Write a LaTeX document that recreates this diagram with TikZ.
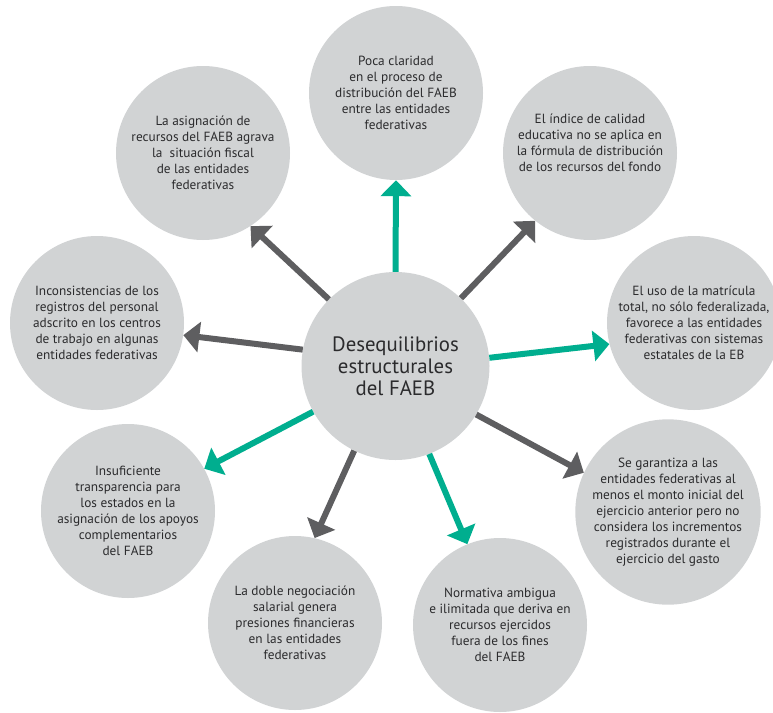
\documentclass[tikz,border=0pt]{standalone}
\usepackage{fontspec}
\setmainfont{PT Sans}
\usetikzlibrary{arrows.meta}
\definecolor{circfill}{HTML}{D1D3D4}
\definecolor{tealarrow}{HTML}{00AE8F}
\definecolor{grayarrow}{HTML}{5E5E60}
\definecolor{textgray}{HTML}{2B2B2D}
\begin{document}
\begin{tikzpicture}[x=1pt,y=-1pt,
  outer/.style={circle, fill=circfill, minimum size=174pt, inner sep=0pt, align=center,
    font=\fontsize{13.3}{16}\selectfont, text=textgray},
  hub/.style={circle, fill=circfill, minimum size=188pt, inner sep=0pt, align=center,
    font=\fontsize{20.8}{22}\selectfont, text=textgray},
  tarrow/.style={draw=tealarrow, line width=6pt, -{Triangle[length=16pt,width=30pt]}},
  garrow/.style={draw=grayarrow, line width=6pt, -{Triangle[length=16pt,width=30pt]}}]
\useasboundingbox (0,0) rectangle (773,712);
\node[outer] (n1) at (396,93) {Poca claridad\\en el proceso de\\distribución del FAEB\\entre las entidades\\federativas};
\node[outer] (n2) at (590,153) {El índice de calidad\\educativa no se aplica en\\la fórmula de distribución\\de los recursos del fondo\\[4pt]};
\node[outer] (n3) at (694,323) {El uso de la matrícula\\total, no sólo federalizada,\\favorece a las entidades\\federativas con sistemas\\estatales de la EB};
\node[outer] (n4) at (668,512) {Se garantiza a las\\entidades federativas al\\menos el monto inicial del\\ejercicio anterior pero no\\considera los incrementos\\registrados durante el\\ejercicio del gasto};
\node[outer] (n5) at (500,625) {Normativa ambigua\\e ilimitada que deriva en\\recursos ejercidos\\fuera de los fines\\del FAEB};
\node[outer] (n6) at (295,623) {La doble negociación\\salarial genera\\presiones financieras\\en las entidades\\federativas};
\node[outer] (n7) at (128,511) {Insuficiente\\transparencia para\\los estados en la\\asignación de los apoyos\\complementarios\\del FAEB};
\node[outer] (n8) at (97,323) {Inconsistencias de los\\registros del personal\\adscrito en los centros\\de trabajo en algunas\\entidades federativas};
\node[outer] (n9) at (203,153) {La asignación de\\recursos del FAEB agrava\\la~ situación fiscal\\de las entidades\\federativas};
\node[hub] (c) at (395.5,366) {Desequilibrios\\estructurales\\del FAEB};
\draw[tarrow] (c.90) -- (n1.270);
\draw[garrow] (c.135.6) -- (n9.303.7);
\draw[garrow] (c.170.3) -- (n8.352);
\draw[garrow] (c.46.5) -- (n2.231);
\draw[tarrow] (c.5.4) -- (n3.194);
\draw[garrow] (c.329.4) -- (n4.155.6);
\draw[tarrow] (c.291.2) -- (n5.112);
\draw[garrow] (c.244.8) -- (n6.77.2);
\draw[tarrow] (c.209) -- (n7.29.7);
\end{tikzpicture}
\end{document}
